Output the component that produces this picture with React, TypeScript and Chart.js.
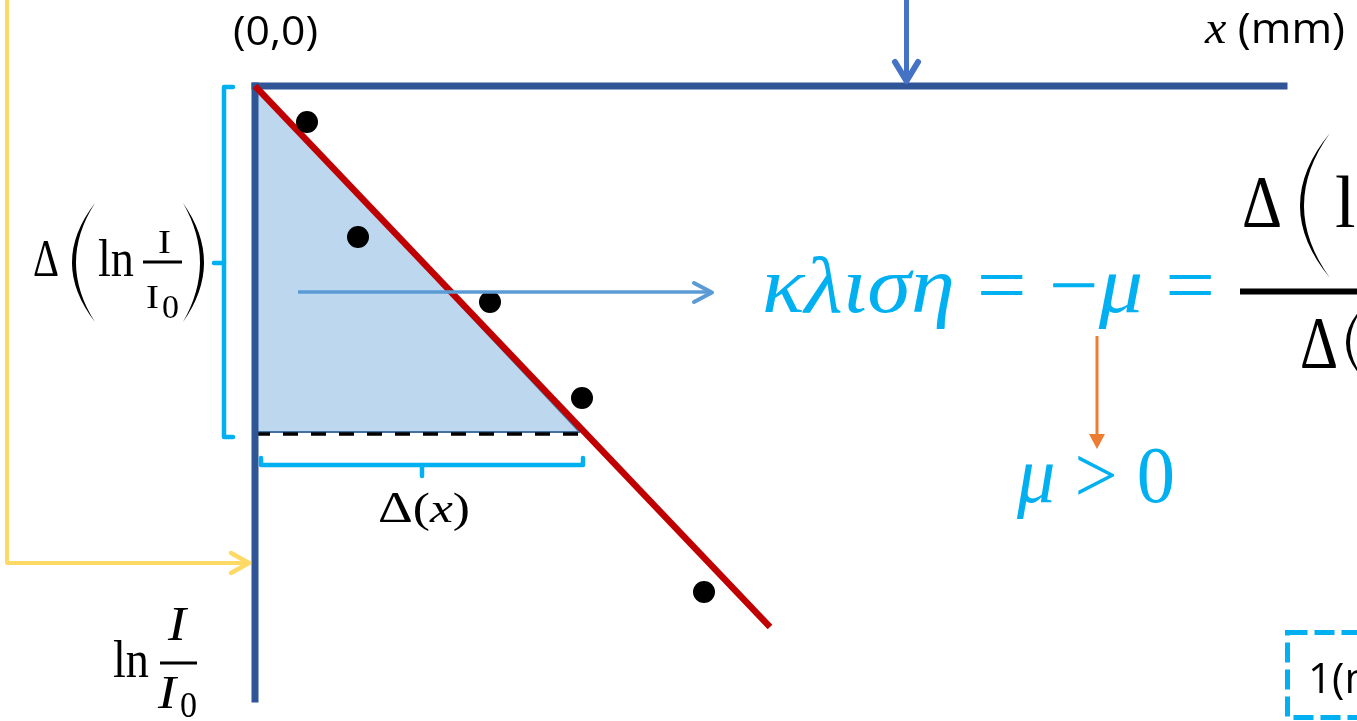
import React, { useEffect, useRef } from "react";
import { Chart, registerables } from "chart.js";

Chart.register(...registerables);

// measured points: x (mm) and ln(I/I0)
const measuredX = [0.52, 1.03, 2.35, 3.27, 4.49];
const measuredY = [-0.36, -1.51, -2.16, -3.12, -5.06];
// fitted straight line
const fitX = [0, 5.15];
const fitY = [0, -5.41];
// slope triangle
const triangleX = [0, 3.25];
const triangleY = [0, -3.46];
const dashedY = -3.48;
// axes extents
const axisXEnd = 10.29;
const axisYEnd = -6.13;
const xRange = [-2.55, 11.02];
const yRange = [-6.35, 0.86];

const SERIF = '"Liberation Serif"';
const SANS = '"Open Sans"';
const CYAN = "#00B0F0";

type Part = [string, string];

function drawRuns(ctx: CanvasRenderingContext2D, parts: Part[], x: number, y: number, color: string, targetW?: number) {
  ctx.save();
  let total = 0;
  const widths: number[] = [];
  for (const [t, f] of parts) {
    ctx.font = f;
    const w = ctx.measureText(t).width;
    widths.push(w);
    total += w;
  }
  const s = targetW ? targetW / total : 1;
  ctx.translate(x, y);
  ctx.scale(s, 1);
  ctx.fillStyle = color;
  ctx.textBaseline = "alphabetic";
  ctx.textAlign = "left";
  let cx = 0;
  parts.forEach(([t, f], i) => {
    ctx.font = f;
    ctx.fillText(t, cx, 0);
    cx += widths[i];
  });
  ctx.restore();
}

function paren(ctx: CanvasRenderingContext2D, left: number, right: number, top: number, bot: number, open: boolean, thick: number, color: string) {
  const mid = (top + bot) / 2;
  ctx.save();
  ctx.fillStyle = color;
  ctx.beginPath();
  const w = right - left;
  if (open) {
    ctx.moveTo(right, top);
    ctx.quadraticCurveTo(left - w, mid, right, bot);
    ctx.quadraticCurveTo(left - w + 2 * thick, mid, right, top);
  } else {
    ctx.moveTo(left, top);
    ctx.quadraticCurveTo(right + w, mid, left, bot);
    ctx.quadraticCurveTo(right + w - 2 * thick, mid, left, top);
  }
  ctx.closePath();
  ctx.fill();
  ctx.restore();
}

function line(ctx: CanvasRenderingContext2D, pts: number[][], color: string, w: number, cap: CanvasLineCap = "butt", dash: number[] = []) {
  ctx.save();
  ctx.strokeStyle = color;
  ctx.lineWidth = w;
  ctx.lineCap = cap;
  ctx.lineJoin = "round";
  ctx.setLineDash(dash);
  ctx.beginPath();
  pts.forEach((p, i) => (i === 0 ? ctx.moveTo(p[0], p[1]) : ctx.lineTo(p[0], p[1])));
  ctx.stroke();
  ctx.restore();
}

const annotations = {
  id: "annotations",
  afterDatasetsDraw(chart: any) {
    const ctx: CanvasRenderingContext2D = chart.ctx;
    // yellow arrow
    line(ctx, [[7, 0], [7, 563], [248, 563]], "#FFD966", 4, "butt");
    line(ctx, [[231, 553], [249, 563], [231, 573]], "#FFD966", 4.5, "round");
    // top blue arrow
    line(ctx, [[906.5, 0], [906.5, 80]], "#4472C4", 5, "butt");
    line(ctx, [[895, 62], [906.5, 81], [918, 62]], "#4472C4", 6, "round");
    // horizontal arrow
    line(ctx, [[298, 292], [711, 292]], "#5B9BD5", 3.5, "butt");
    line(ctx, [[694, 283], [712, 292.5], [694, 302]], "#5B9BD5", 4, "round");
    // cyan bracket (left)
    line(ctx, [[233, 87], [224, 87], [224, 437], [233, 437]], CYAN, 4.5, "round");
    line(ctx, [[224, 263], [214, 263]], CYAN, 4.5, "round");
    // cyan bracket (bottom)
    line(ctx, [[261, 458], [261, 465], [583, 465], [583, 458]], CYAN, 4.5, "round");
    line(ctx, [[422, 465], [422, 476]], CYAN, 4.5, "round");
    // orange arrow
    line(ctx, [[1097, 336], [1097, 436]], "#ED7D31", 3, "butt");
    ctx.save();
    ctx.fillStyle = "#ED7D31";
    ctx.beginPath();
    ctx.moveTo(1089, 434);
    ctx.lineTo(1105, 434);
    ctx.lineTo(1097, 449);
    ctx.closePath();
    ctx.fill();
    ctx.restore();
    // dashed cyan box
    ctx.save();
    ctx.strokeStyle = CYAN;
    ctx.lineWidth = 5;
    ctx.setLineDash([20, 7]);
    ctx.strokeRect(1287.5, 632.5, 200, 85);
    ctx.restore();

    // texts
    drawRuns(ctx, [["(0,0)", `40px ${SANS}`]], 233, 45, "#000", 85);
    drawRuns(ctx, [["x", `italic 46px ${SERIF}`], [" (mm)", `42px ${SANS}`]], 1205, 43, "#000", 140);
    drawRuns(ctx, [["1(mm)", `42px ${SANS}`]], 1308, 693, "#000");

    // Δ(ln I/I0) on the left
    drawRuns(ctx, [["Δ", `52px ${SERIF}`]], 33, 276, "#000", 26);
    paren(ctx, 72, 95, 203, 322, true, 4, "#000");
    drawRuns(ctx, [["ln", `52px ${SERIF}`]], 98, 276, "#000", 36);
    line(ctx, [[143, 262], [182, 262]], "#000", 3);
    drawRuns(ctx, [["I", `34px ${SERIF}`]], 158, 253, "#000", 13);
    drawRuns(ctx, [["I", `33px ${SERIF}`]], 146, 308, "#000", 13);
    drawRuns(ctx, [["0", `33px ${SERIF}`]], 162, 318, "#000", 17);
    paren(ctx, 183, 204, 203, 322, false, 4, "#000");

    // ln I/I0 bottom-left
    drawRuns(ctx, [["ln", `52px ${SERIF}`]], 113, 677, "#000", 36);
    line(ctx, [[160, 663], [197, 663]], "#000", 3);
    drawRuns(ctx, [["I", `italic 48px ${SERIF}`]], 168, 640, "#000", 18);
    drawRuns(ctx, [["I", `italic 46px ${SERIF}`]], 158, 708, "#000", 18);
    drawRuns(ctx, [["0", `35px ${SERIF}`]], 180, 717, "#000", 17);

    // Δ(x)
    drawRuns(ctx, [["Δ", `44px ${SERIF}`], ["(", `42px ${SERIF}`], ["x", `italic 42px ${SERIF}`], [")", `42px ${SERIF}`]], 378, 522, "#000", 92);

    // slope formula
    drawRuns(
      ctx,
      [["κλιση", `italic 80px ${SERIF}`], [" = −", `80px ${SERIF}`], ["μ", `italic 80px ${SERIF}`], [" =", `80px ${SERIF}`]],
      762, 312, CYAN, 453
    );
    line(ctx, [[1240, 291.5], [1360, 291.5]], "#000", 6);
    drawRuns(ctx, [["Δ", `74px ${SERIF}`]], 1242, 227, "#000", 40);
    paren(ctx, 1300, 1330, 133, 278, true, 4, "#000");
    drawRuns(ctx, [["ln", `74px ${SERIF}`]], 1335, 227, "#000");
    drawRuns(ctx, [["Δ", `74px ${SERIF}`]], 1300, 368, "#000", 38);
    paren(ctx, 1346, 1370, 300, 385, true, 4, "#000");

    // μ > 0
    drawRuns(ctx, [["μ", `italic 80px ${SERIF}`], [" > 0", `80px ${SERIF}`]], 1017, 502, CYAN, 158);
  },
};

export default function App() {
  const ref = useRef<HTMLCanvasElement>(null);
  useEffect(() => {
    if (!ref.current) return;
    const pts = (xs: number[], ys: number[]) => xs.map((x, i) => ({ x, y: ys[i] }));
    const chart = new Chart(ref.current, {
      type: "scatter",
      data: {
        datasets: [
          {
            label: "measurements",
            data: pts(measuredX, measuredY),
            pointRadius: 11,
            pointBackgroundColor: "#000",
            pointBorderWidth: 0,
            showLine: false,
          },
          {
            label: "fit",
            data: pts(fitX, fitY),
            showLine: true,
            borderColor: "#C00000",
            borderWidth: 6.5,
            pointRadius: 0,
          },
          {
            label: "x axis",
            data: pts([0, axisXEnd], [0, 0]),
            showLine: true,
            borderColor: "#2F5597",
            borderWidth: 7,
            borderCapStyle: "square",
            pointRadius: 0,
          },
          {
            label: "y axis",
            data: pts([0, 0], [0, axisYEnd]),
            showLine: true,
            borderColor: "#2F5597",
            borderWidth: 7,
            borderCapStyle: "square",
            pointRadius: 0,
          },
          {
            label: "dashed",
            data: pts([0, triangleX[1]], [dashedY, dashedY]),
            showLine: true,
            borderColor: "#000",
            borderWidth: 3.5,
            borderDash: [15, 13],
            borderCapStyle: "butt",
            pointRadius: 0,
          },
          {
            label: "triangle base",
            data: pts([0, triangleX[1]], [triangleY[1], triangleY[1]]),
            showLine: true,
            borderColor: "#41719C",
            borderWidth: 2,
            pointRadius: 0,
          },
          {
            label: "triangle",
            data: pts(triangleX, triangleY),
            showLine: true,
            borderColor: "#41719C",
            borderWidth: 2.5,
            backgroundColor: "#BDD7EE",
            fill: { value: triangleY[1] },
            pointRadius: 0,
          },
        ],
      },
      options: {
        animation: false,
        responsive: false,
        devicePixelRatio: 1,
        layout: { padding: 0, autoPadding: false },
        plugins: { legend: { display: false }, tooltip: { enabled: false } },
        scales: {
          x: { type: "linear", min: xRange[0], max: xRange[1], display: false },
          y: { type: "linear", min: yRange[0], max: yRange[1], display: false },
        },
      } as any,
      plugins: [annotations],
    });
    return () => chart.destroy();
  }, []);
  return (
    <div style={{ position: "fixed", left: 0, top: 0, width: 1357, height: 721, background: "#fff" }}>
      <canvas ref={ref} width={1357} height={721} style={{ display: "block" }} />
    </div>
  );
}
